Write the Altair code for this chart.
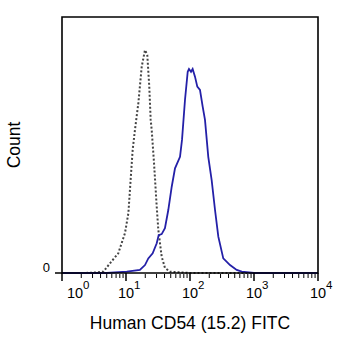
import altair as alt
import pandas as pd

# isotype control (dotted)
ctrl_x = [1, 2, 3, 4.42, 5.62, 7.58, 9.64, 10.9, 11.8, 12.7, 13.8, 15.6, 17.6, 19.8, 21.5,
          23.1, 24.3, 25.2, 27.4, 30.2, 32.0, 36.1, 40.6, 48.7, 100, 1000, 10000]
ctrl_y = [0, 0, 0.1, 0.5, 3.8, 7.7, 15.6, 23.4, 36.3, 48, 55.9, 66.4, 80.6, 87.1, 85.2,
          72.8, 59.8, 55.9, 43, 25.9, 16.8, 6.4, 2, 0.5, 0, 0, 0]

# CD54 stained (blue)
cd54_x = [1, 5, 10.3, 16.5, 19.8, 22.3, 26.1, 30.2, 32.4, 36.1, 40.6, 45.8, 51.8, 58.3, 69.8,
          75.0, 83.5, 92.1, 96.4, 103.7, 110, 119.7, 130, 143.2, 157.8, 171.5, 193, 218,
          246, 277, 331, 422, 537, 643, 1000, 10000]
cd54_y = [0, 0, 0.5, 1.2, 3.1, 5.7, 7.7, 11.6, 14.8, 15.2, 17.5, 24.6, 33.7, 40.9, 45.4,
          52, 67.6, 78.6, 79.7, 78.6, 79.7, 76.7, 72.8, 71.5, 65, 59.8, 45.4, 36.3,
          24.6, 14.2, 5.7, 3.1, 1.2, 0.5, 0, 0]

exponents = [0, 1, 2, 3, 4]
minor_mult = [2, 3, 4, 5, 6, 7, 8, 9]

W, H = 256, 256
xscale = alt.Scale(type="log", domain=[1, 10000], nice=False)
yscale = alt.Scale(domain=[0, 100], nice=False)

df_ctrl = pd.DataFrame({"x": ctrl_x, "y": ctrl_y})
df_cd = pd.DataFrame({"x": cd54_x, "y": cd54_y})
major = pd.DataFrame({"x": [10 ** e for e in exponents], "e": [str(e) for e in exponents]})
minor = pd.DataFrame({"x": [m * 10 ** e for e in exponents[:-1] for m in minor_mult]})

ctrl = alt.Chart(df_ctrl).mark_line(color="#444444", strokeWidth=2, strokeDash=[2, 2],
                                    interpolate="linear").encode(
    x=alt.X("x:Q", scale=xscale, axis=None),
    y=alt.Y("y:Q", scale=yscale, axis=None))
cd = alt.Chart(df_cd).mark_line(color="#2420a8", strokeWidth=1.8).encode(
    x=alt.X("x:Q", scale=xscale, axis=None),
    y=alt.Y("y:Q", scale=yscale, axis=None))

frame = alt.Chart(pd.DataFrame({"a": [0]})).mark_rect(
    fill=None, stroke="black", strokeWidth=1.6).encode(
    x=alt.value(0), x2=alt.value(W), y=alt.value(0), y2=alt.value(H))

major_ticks = alt.Chart(major).mark_rule(color="black", strokeWidth=1.5).encode(
    x=alt.X("x:Q", scale=xscale, axis=None),
    y=alt.value(H), y2=alt.value(H + 8))
minor_ticks = alt.Chart(minor).mark_rule(color="black", strokeWidth=1).encode(
    x=alt.X("x:Q", scale=xscale, axis=None),
    y=alt.value(H + 1), y2=alt.value(H + 5))

base_font = dict(font="Liberation Sans", color="black")
lab_main = alt.Chart(major[major.e != "0"]).mark_text(
    fontSize=14.5, align="center", baseline="alphabetic", dy=0, **base_font).encode(
    x=alt.X("x:Q", scale=xscale, axis=None), y=alt.value(H + 25), text=alt.value("10"))
lab_exp = alt.Chart(major[major.e != "0"]).mark_text(
    fontSize=11.5, align="left", baseline="alphabetic", dx=8, **base_font).encode(
    x=alt.X("x:Q", scale=xscale, axis=None), y=alt.value(H + 16), text="e:N")
lab0_main = alt.Chart(major[major.e == "0"]).mark_text(
    fontSize=14.5, align="center", baseline="alphabetic", dx=13, **base_font).encode(
    x=alt.X("x:Q", scale=xscale, axis=None), y=alt.value(H + 25), text=alt.value("10"))
lab0_exp = alt.Chart(major[major.e == "0"]).mark_text(
    fontSize=11.5, align="left", baseline="alphabetic", dx=21, **base_font).encode(
    x=alt.X("x:Q", scale=xscale, axis=None), y=alt.value(H + 16), text="e:N")

ytick = alt.Chart(pd.DataFrame({"y": [0]})).mark_rule(color="black", strokeWidth=1.5).encode(
    y=alt.Y("y:Q", scale=yscale, axis=None), x=alt.value(-7), x2=alt.value(0))
ylab = alt.Chart(pd.DataFrame({"y": [0]})).mark_text(
    fontSize=13, align="right", baseline="alphabetic", dy=-1, **base_font).encode(
    y=alt.Y("y:Q", scale=yscale, axis=None), x=alt.value(-12), text=alt.value("0"))

xtitle = alt.Chart(pd.DataFrame({"t": ["Human CD54 (15.2) FITC"]})).mark_text(
    fontSize=17.5, align="center", baseline="middle", **base_font).encode(
    x=alt.value(W / 2), y=alt.value(H + 51), text="t:N")
ytitle = alt.Chart(pd.DataFrame({"t": ["Count"]})).mark_text(
    fontSize=17.5, align="center", baseline="middle", angle=270, **base_font).encode(
    x=alt.value(-47), y=alt.value(H / 2), text="t:N")

chart = alt.layer(ctrl, cd, frame, major_ticks, minor_ticks, lab_main, lab_exp, lab0_main,
                  lab0_exp, ytick, ylab, xtitle, ytitle).properties(
    width=W, height=H,
    background="white",
    autosize=alt.AutoSizeParams(type="none"),
    padding={"left": 62, "top": 17, "right": 38, "bottom": 81},
).configure_view(stroke=None)

chart.save("out.html", embed_options={"renderer": "svg", "actions": False})
